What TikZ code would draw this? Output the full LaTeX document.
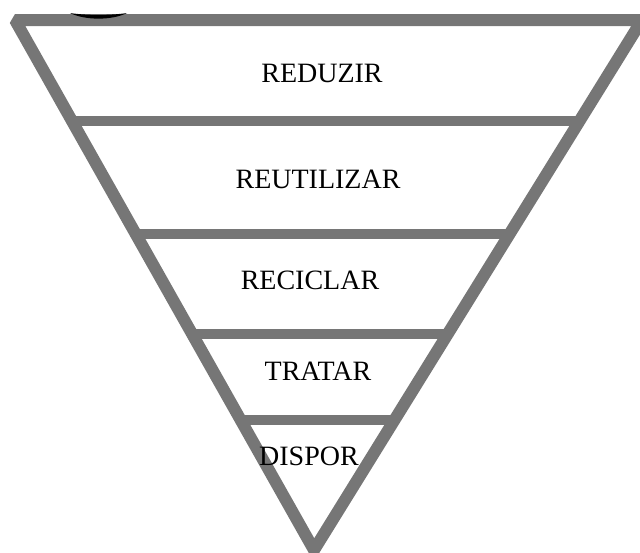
\documentclass[tikz,border=0pt]{standalone}
\usepackage{fontspec}
\setmainfont{Liberation Serif}
\usetikzlibrary{calc}
\definecolor{tri}{RGB}{118,118,118}
\tikzset{
  frame/.style={draw=tri, line width=12pt, line join=bevel},
  band/.style={draw=tri, line width=10pt},
  label/.style={font=\fontsize{28}{30}\selectfont, inner sep=0pt}
}
\begin{document}
\begin{tikzpicture}[x=1pt,y=-1pt]
\useasboundingbox (0,0) rectangle (640,552);
\coordinate (L) at (15,20);
\coordinate (R) at (642,20);
\coordinate (A) at (314,550);
\draw[frame] (L) -- (R) -- (A) -- cycle;
% small black crescent at the top
\fill[black] (70,13) .. controls (85,20.5) and (112,20.5) .. (127,13) .. controls (112,15.5) and (85,15.5) .. cycle;
\foreach \t/\n in {0.191/1, 0.403/2, 0.593/3, 0.754/4}{
  \coordinate (l\n) at ($(L)!\t!(A)$);
  \coordinate (r\n) at ($(R)!\t!(A)$);
  \draw[band] (l\n) -- (r\n);
}
\node[label] (reduzir) at (322,73) {REDUZIR};
\node[label] (reutilizar) at (318,179) {REUTILIZAR};
\node[label] (reciclar) at (310,280) {RECICLAR};
\node[label] (tratar) at (318,371) {TRATAR};
\node[label] (dispor) at (309,456) {DISPOR};
\end{tikzpicture}
\end{document}
